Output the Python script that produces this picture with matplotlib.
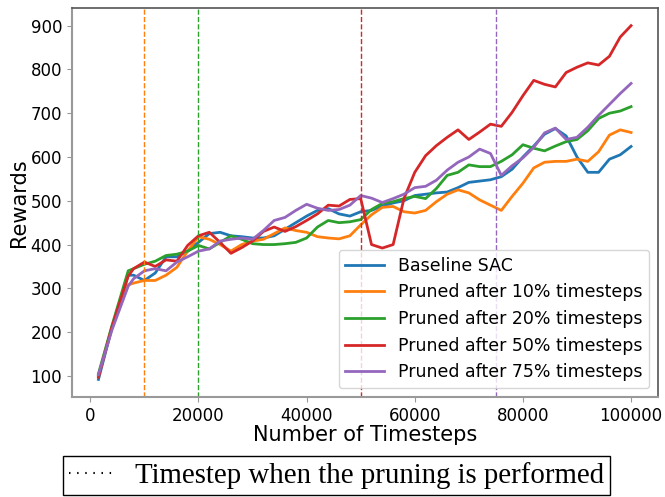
import matplotlib
matplotlib.use('Agg')
import matplotlib.pyplot as plt
from matplotlib.lines import Line2D

# evaluation timesteps (first points on the initial ramp, then every 2000 steps)
timesteps = [1500, 4000, 7000] + list(range(8000, 100001, 2000))

# rewards
baseline = [92, 210, 330, 330, 318, 335, 372, 372, 385, 405, 425, 428, 420, 418,
            415, 415, 420, 435, 450, 465, 478, 482, 470, 465, 475, 478, 488, 495,
            500, 512, 515, 518, 520, 530, 542, 545, 548, 555, 572, 600, 625, 652,
            665, 648, 600, 565, 565, 595, 605, 624]
pruned_10 = [100, 212, 308, 312, 318, 318, 330, 348, 385, 418, 412, 400, 385, 400,
             408, 412, 425, 438, 432, 428, 418, 415, 413, 420, 445, 468, 485, 487,
             475, 472, 478, 498, 515, 525, 518, 502, 490, 478, 510, 540, 575, 588,
             590, 590, 595, 590, 612, 650, 662, 656]
pruned_20 = [105, 215, 340, 345, 355, 362, 375, 378, 385, 398, 390, 405, 420, 412,
             402, 400, 400, 402, 405, 415, 440, 455, 450, 452, 457, 480, 494, 498,
             505, 510, 505, 528, 558, 565, 582, 578, 578, 590, 605, 628, 620, 614,
             625, 635, 640, 660, 688, 700, 705, 715]
pruned_50 = [97, 212, 328, 345, 360, 350, 365, 362, 398, 420, 428, 405, 380, 393,
             408, 430, 440, 430, 441, 455, 470, 490, 488, 503, 505, 400, 392, 400,
             505, 565, 603, 626, 645, 662, 640, 657, 675, 670, 702, 740, 775, 766,
             760, 793, 805, 815, 810, 830, 874, 900]
pruned_75 = [103, 205, 305, 322, 340, 345, 340, 360, 372, 385, 390, 408, 412, 415,
             412, 432, 455, 462, 478, 492, 483, 478, 480, 490, 512, 506, 496, 505,
             515, 530, 533, 547, 570, 588, 600, 618, 608, 558, 580, 598, 622, 655,
             666, 640, 645, 668, 695, 720, 745, 768]

series = [baseline, pruned_10, pruned_20, pruned_50, pruned_75]
labels = ['Baseline SAC', 'Pruned after 10% timesteps', 'Pruned after 20% timesteps',
          'Pruned after 50% timesteps', 'Pruned after 75% timesteps']
colors = ['tab:blue', 'tab:orange', 'tab:green', 'tab:red', 'tab:purple']

# pruning points
prune_steps = [10000, 20000, 50000, 75000]
prune_colors = ['tab:orange', 'tab:green', 'tab:red', 'tab:purple']

fig = plt.figure(figsize=(6.65, 4.97), dpi=100)
ax = fig.add_axes([0.108, 0.201, 0.881, 0.783])

for vals, lab, col in zip(series, labels, colors):
    ax.plot(timesteps, vals, color=col, lw=2.0, label=lab)

for step, col in zip(prune_steps, prune_colors):
    ax.axvline(step, color=col, ls='--', lw=1.0)

ax.set_xlabel('Number of Timesteps', fontsize=15, labelpad=0)
ax.set_ylabel('Rewards', fontsize=15, labelpad=1)
ax.set_xticks([0, 20000, 40000, 60000, 80000, 100000])
ax.set_yticks([100, 200, 300, 400, 500, 600, 700, 800, 900])
ax.tick_params(labelsize=12, color='#999999')

for side in ['left', 'bottom']:
    ax.spines[side].set_color('#999999')
    ax.spines[side].set_linewidth(1.5)
for side in ['top', 'right']:
    ax.spines[side].set_color('#555555')
    ax.spines[side].set_linewidth(1.2)

ax.legend(loc='lower right', fontsize=12.5, labelspacing=0.5, handlelength=2.2)

# separate box explaining the dashed markers
dot_handle = Line2D([], [], color='black', lw=1.5, dashes=(0.7, 3.2))
fig.legend(handles=[dot_handle], labels=['Timestep when the pruning is performed'],
           loc='lower center', bbox_to_anchor=(0.506, 0.004), ncol=1,
           prop={'family': 'Liberation Serif', 'size': 20.8},
           frameon=True, fancybox=False, edgecolor='black', framealpha=1,
           borderpad=0.2, borderaxespad=0, handlelength=1.5, handletextpad=0.8)

fig.savefig('out.png', dpi=100)
